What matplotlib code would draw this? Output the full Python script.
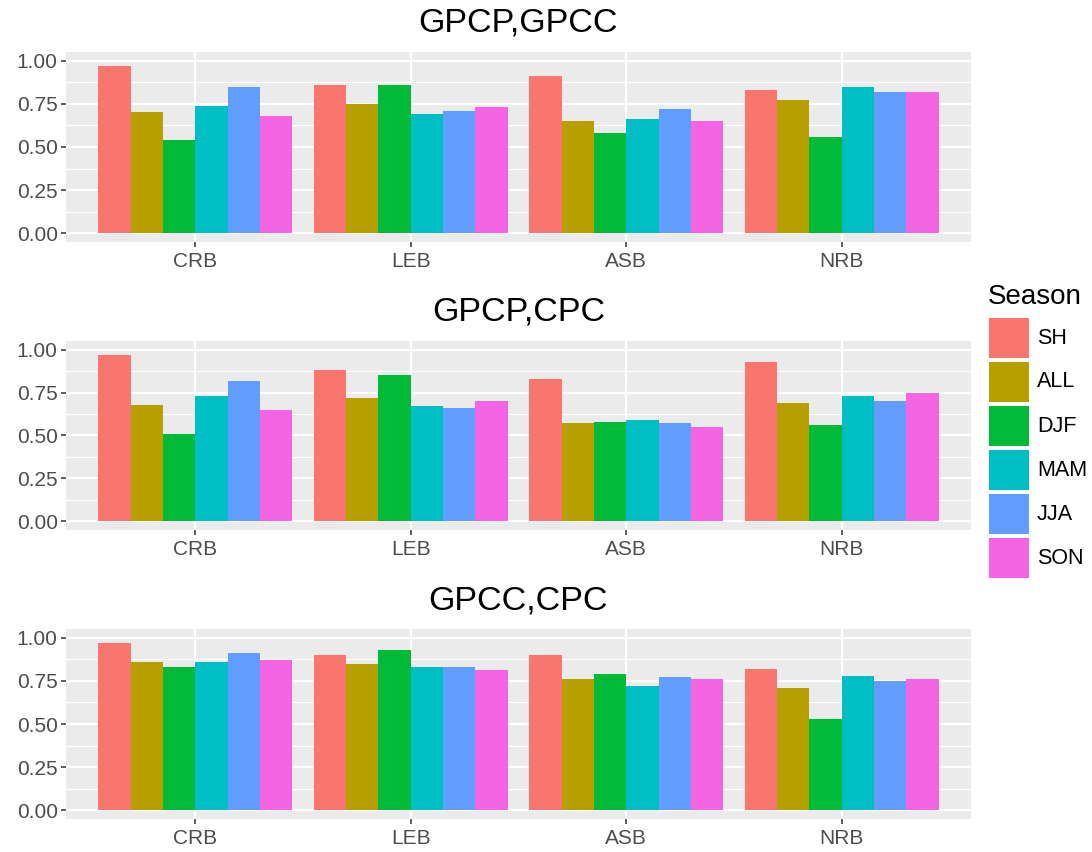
import matplotlib
matplotlib.use("Agg")
import matplotlib.pyplot as plt
from matplotlib.patches import Rectangle
import numpy as np

plt.rcParams['font.family'] = ['Liberation Sans', 'DejaVu Sans']

basins = ["CRB", "LEB", "ASB", "NRB"]
seasons = ["SH", "ALL", "DJF", "MAM", "JJA", "SON"]
season_colors = ["#F8766D", "#B79F00", "#00BA38", "#00BFC4", "#619CFF", "#F564E3"]

panel_titles = ["GPCP,GPCC", "GPCP,CPC", "GPCC,CPC"]

# values per basin, in season order SH, ALL, DJF, MAM, JJA, SON
gpcp_gpcc = {
    "CRB": [0.97, 0.70, 0.54, 0.74, 0.85, 0.68],
    "LEB": [0.86, 0.75, 0.86, 0.69, 0.71, 0.73],
    "ASB": [0.91, 0.65, 0.58, 0.66, 0.72, 0.65],
    "NRB": [0.83, 0.77, 0.56, 0.85, 0.82, 0.82],
}
gpcp_cpc = {
    "CRB": [0.97, 0.68, 0.51, 0.73, 0.82, 0.65],
    "LEB": [0.88, 0.72, 0.85, 0.67, 0.66, 0.70],
    "ASB": [0.83, 0.57, 0.58, 0.59, 0.57, 0.55],
    "NRB": [0.93, 0.69, 0.56, 0.73, 0.70, 0.75],
}
gpcc_cpc = {
    "CRB": [0.97, 0.86, 0.83, 0.86, 0.91, 0.87],
    "LEB": [0.90, 0.85, 0.93, 0.83, 0.83, 0.81],
    "ASB": [0.90, 0.76, 0.79, 0.72, 0.77, 0.76],
    "NRB": [0.82, 0.71, 0.53, 0.78, 0.75, 0.76],
}
panel_data = [gpcp_gpcc, gpcp_cpc, gpcc_cpc]

y_ticks = [0.00, 0.25, 0.50, 0.75, 1.00]
y_tick_labels = ["0.00", "0.25", "0.50", "0.75", "1.00"]

W, H = 1092, 852
fig = plt.figure(figsize=(W / 100, H / 100), dpi=100)

# panel boxes in pixels: (left, top, right, bottom)
panel_px = [(66, 52, 971, 242), (66, 341, 971, 530), (66, 629, 971, 819)]
title_y_px = [23, 312, 601]

grid_col = "white"
text_col = "#4D4D4D"
n_s = len(seasons)
dodge = 0.9
bw = dodge / n_s
xpos = np.arange(1, len(basins) + 1)

for data, title, (l, t, r, b), ty in zip(panel_data, panel_titles, panel_px, title_y_px):
    ax = fig.add_axes([l / W, 1 - b / H, (r - l) / W, (b - t) / H])
    ax.set_facecolor("#EBEBEB")
    for sp in ax.spines.values():
        sp.set_visible(False)
    ax.set_xlim(0.4, 4.6)
    ax.set_ylim(-0.05, 1.05)
    # grid
    for yv in np.arange(0.125, 1.0, 0.25):
        ax.axhline(yv, color=grid_col, lw=0.8, zorder=0.5)
    for yv in y_ticks:
        ax.axhline(yv, color=grid_col, lw=1.6, zorder=0.6)
    for xv in xpos:
        ax.axvline(xv, color=grid_col, lw=1.6, zorder=0.6)
    # bars
    for j, (s, c) in enumerate(zip(seasons, season_colors)):
        vals = [data[bn][j] for bn in basins]
        offs = xpos - dodge / 2 + bw * (j + 0.5)
        ax.bar(offs, vals, width=bw, color=c, zorder=2, linewidth=0)
    ax.set_yticks(y_ticks)
    ax.set_yticklabels(y_tick_labels)
    ax.set_xticks(xpos)
    ax.set_xticklabels(basins)
    ax.tick_params(axis="both", length=3.5, width=1.1, color="#333333",
                   labelcolor=text_col, labelsize=15)
    ax.tick_params(axis="y", pad=2.5)
    ax.tick_params(axis="x", pad=4)
    fig.text((l + r) / 2 / W, 1 - ty / H, title, ha="center", va="center",
             fontsize=24.5, color="black")

# legend
fig.text(988 / W, 1 - 297 / H, "Season", ha="left", va="center", fontsize=20, color="black")
key_top = 318
for i, (s, c) in enumerate(zip(seasons, season_colors)):
    y0 = key_top + i * 44
    fig.patches.append(Rectangle((989 / W, 1 - (y0 + 40) / H), 40 / W, 40 / H,
                                 transform=fig.transFigure, facecolor=c,
                                 edgecolor="none", figure=fig))
    fig.text(1037 / W, 1 - (y0 + 20) / H, s, ha="left", va="center",
             fontsize=15.5, color="black")

fig.savefig("out.png", dpi=100, facecolor="white")
